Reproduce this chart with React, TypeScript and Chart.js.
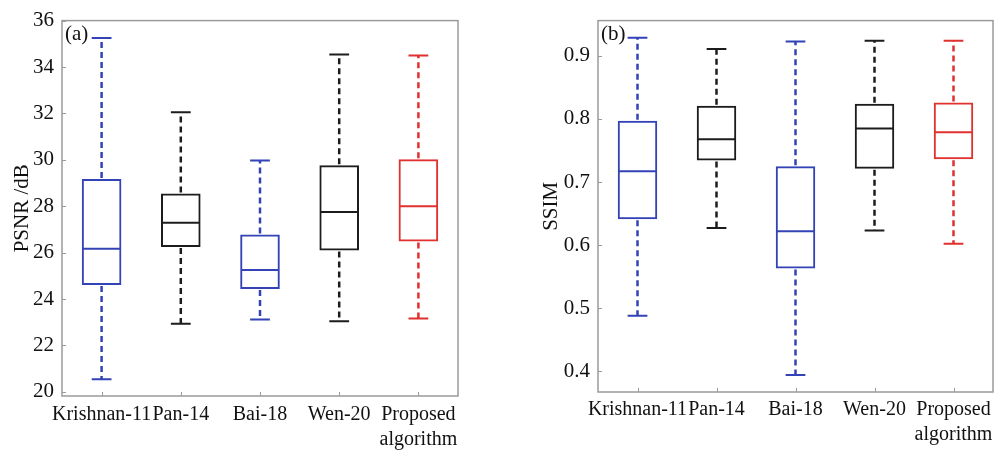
import React, { useEffect, useRef } from "react";
import { Chart, registerables } from "chart.js";

Chart.register(...registerables);

const categories: (string | string[])[] = ["Krishnan-11", "Pan-14", "Bai-18", "Wen-20", ["Proposed", "algorithm"]];
const boxColors = ["#3343b6", "#1c1c1c", "#3343b6", "#1c1c1c", "#e0312f"];

const psnrMin = [20.54, 22.93, 23.12, 23.04, 23.16];
const psnrQ1 = [24.6, 26.24, 24.43, 26.09, 26.48];
const psnrMedian = [26.17, 27.29, 25.25, 27.75, 28.0];
const psnrQ3 = [29.17, 28.55, 26.78, 29.77, 30.02];
const psnrMax = [35.25, 32.05, 29.97, 34.54, 34.5];
const psnrTicks = [20, 22, 24, 26, 28, 30, 32, 34, 36];

const ssimMin = [0.488, 0.627, 0.394, 0.623, 0.602];
const ssimQ1 = [0.641, 0.734, 0.563, 0.721, 0.736];
const ssimMedian = [0.717, 0.768, 0.622, 0.785, 0.779];
const ssimQ3 = [0.797, 0.821, 0.725, 0.824, 0.826];
const ssimMax = [0.929, 0.911, 0.923, 0.924, 0.924];
const ssimTicks = [0.4, 0.5, 0.6, 0.7, 0.8, 0.9];

const FONT = "'Liberation Serif', 'Times New Roman', serif";
const TEXT = "#111111";
const FRAME = "#9a9a9a";

type Panel = {
  label: string;
  yTitle: string;
  mins: number[];
  q1: number[];
  med: number[];
  q3: number[];
  maxs: number[];
  ticks: number[];
  yMin: number;
  yMax: number;
  decimals: number;
  padding: { left: number; top: number; right: number; bottom: number };
  yWidth: number;
  xHeight: number;
  titlePad: number;
  xLabelPad: number;
};

function makePlugin(p: Panel) {
  return {
    id: "boxExtras",
    afterDatasetsDraw(chart: any) {
      const { ctx } = chart;
      const x = chart.scales.x;
      const y = chart.scales.y;
      const step = x.getPixelForValue(1) - x.getPixelForValue(0);
      const capHalf = step * 0.125;
      const meta = chart.getDatasetMeta(0);
      ctx.save();
      p.mins.forEach((mn, i) => {
        const cx = x.getPixelForValue(i);
        const color = boxColors[i];
        const yMin = y.getPixelForValue(mn);
        const yMax = y.getPixelForValue(p.maxs[i]);
        const yQ1 = y.getPixelForValue(p.q1[i]);
        const yQ3 = y.getPixelForValue(p.q3[i]);
        const yMed = y.getPixelForValue(p.med[i]);
        ctx.strokeStyle = color;
        ctx.lineWidth = 2.5;
        ctx.setLineDash([6, 4]);
        ctx.beginPath();
        ctx.moveTo(cx, yQ3 - 1);
        ctx.lineTo(cx, yMax);
        ctx.moveTo(cx, yQ1 + 1);
        ctx.lineTo(cx, yMin);
        ctx.stroke();
        ctx.setLineDash([]);
        ctx.lineWidth = 2;
        ctx.beginPath();
        ctx.moveTo(cx - capHalf, yMax);
        ctx.lineTo(cx + capHalf, yMax);
        ctx.moveTo(cx - capHalf, yMin);
        ctx.lineTo(cx + capHalf, yMin);
        ctx.stroke();
        const bar = meta.data[i];
        const half = bar ? bar.width / 2 : step * 0.25;
        ctx.beginPath();
        ctx.moveTo(cx - half + 1, yMed);
        ctx.lineTo(cx + half - 1, yMed);
        ctx.stroke();
      });
      ctx.restore();
    },
    afterDraw(chart: any) {
      const { ctx, chartArea } = chart;
      const x = chart.scales.x;
      const y = chart.scales.y;
      ctx.save();
      ctx.strokeStyle = FRAME;
      ctx.lineWidth = 1.5;
      ctx.strokeRect(chartArea.left, chartArea.top, chartArea.right - chartArea.left, chartArea.bottom - chartArea.top);
      ctx.lineWidth = 1;
      ctx.beginPath();
      y.ticks.forEach((t: any) => {
        const py = Math.round(y.getPixelForValue(t.value)) + 0.5;
        ctx.moveTo(chartArea.left, py);
        ctx.lineTo(chartArea.left + 4, py);
      });
      categories.forEach((_c, i) => {
        const px = Math.round(x.getPixelForValue(i)) + 0.5;
        ctx.moveTo(px, chartArea.bottom);
        ctx.lineTo(px, chartArea.bottom - 4);
      });
      ctx.stroke();
      ctx.fillStyle = TEXT;
      ctx.font = `21px ${FONT}`;
      ctx.textAlign = "left";
      ctx.textBaseline = "middle";
      ctx.fillText(p.label, chartArea.left + 3, chartArea.top + 14);
      ctx.restore();
    },
  };
}

function BoxPanel({ p }: { p: Panel }) {
  const ref = useRef<HTMLCanvasElement | null>(null);
  useEffect(() => {
    if (!ref.current) return;
    const chart = new Chart(ref.current, {
      type: "bar",
      data: {
        labels: categories as any,
        datasets: [
          {
            data: p.q1.map((v, i) => [v, p.q3[i]]) as any,
            backgroundColor: "rgba(255,255,255,0)",
            borderColor: boxColors,
            borderWidth: 2,
            borderSkipped: false,
            barPercentage: 0.5,
            categoryPercentage: 1.0,
          },
        ],
      },
      options: {
        responsive: false,
        animation: false,
        layout: { padding: p.padding },
        plugins: { legend: { display: false }, tooltip: { enabled: false } },
        scales: {
          x: {
            type: "category",
            offset: true,
            grid: { display: false, drawTicks: false },
            border: { display: false },
            ticks: {
              color: TEXT,
              font: { family: FONT, size: 20, lineHeight: 1.25 },
              padding: p.xLabelPad,
              maxRotation: 0,
              minRotation: 0,
              autoSkip: false,
            },
            afterFit: (s: any) => {
              s.height = p.xHeight;
            },
          },
          y: {
            type: "linear",
            min: p.yMin,
            max: p.yMax,
            grid: { display: false, drawTicks: false },
            border: { display: false },
            afterBuildTicks: (s: any) => {
              s.ticks = p.ticks.map((v) => ({ value: v }));
            },
            ticks: {
              color: TEXT,
              font: { family: FONT, size: 21 },
              padding: 8,
              callback: (v: any) => Number(v).toFixed(p.decimals),
            },
            title: {
              display: true,
              text: p.yTitle,
              color: TEXT,
              font: { family: FONT, size: 21, lineHeight: 1.2 },
              padding: { top: p.titlePad, bottom: 0 },
            },
            afterFit: (s: any) => {
              s.width = p.yWidth;
            },
          },
        },
      },
      plugins: [makePlugin(p)],
    });
    return () => chart.destroy();
  }, [p]);
  return <canvas ref={ref} width={500} height={452} style={{ display: "block", width: 500, height: 452 }} />;
}

const panelA: Panel = {
  label: "(a)",
  yTitle: "PSNR /dB",
  mins: psnrMin,
  q1: psnrQ1,
  med: psnrMedian,
  q3: psnrQ3,
  maxs: psnrMax,
  ticks: psnrTicks,
  yMin: 19.82,
  yMax: 36,
  decimals: 0,
  padding: { left: 0, top: 15, right: 42, bottom: 0 },
  yWidth: 62,
  xHeight: 56,
  titlePad: 10,
  xLabelPad: 6,
};

const panelB: Panel = {
  label: "(b)",
  yTitle: "SSIM",
  mins: ssimMin,
  q1: ssimQ1,
  med: ssimMedian,
  q3: ssimQ3,
  maxs: ssimMax,
  ticks: ssimTicks,
  yMin: 0.367,
  yMax: 0.956,
  decimals: 1,
  padding: { left: 0, top: 12, right: 7, bottom: 0 },
  yWidth: 98,
  xHeight: 60,
  titlePad: 39,
  xLabelPad: 5,
};

export default function App() {
  return (
    <div style={{ position: "fixed", left: 0, top: 0, width: 1000, height: 452, display: "flex", background: "#fff" }}>
      <BoxPanel p={panelA} />
      <BoxPanel p={panelB} />
    </div>
  );
}
